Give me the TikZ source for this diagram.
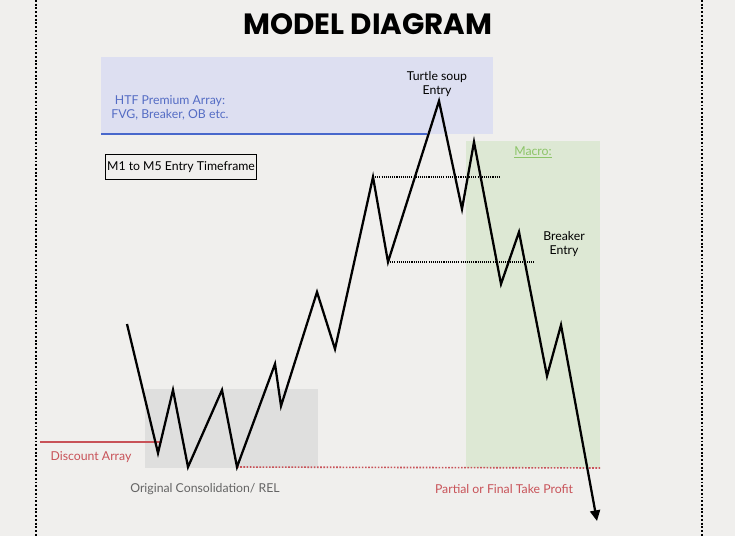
\documentclass[tikz,border=0pt]{standalone}
\usepackage{fontspec}
\setmainfont{Lato}
\newfontfamily\titlefont{Poppins}
\usepackage{tikz}
\usetikzlibrary{arrows.meta}
\usepackage{xcolor}
\definecolor{paperGray}{RGB}{240,239,237}
\definecolor{premiumBlue}{RGB}{221,223,241}
\definecolor{lineBlue}{RGB}{72,104,204}
\definecolor{textBlue}{RGB}{84,108,196}
\definecolor{macroGreen}{RGB}{221,232,212}
\definecolor{macroText}{RGB}{140,196,104}
\definecolor{consolGray}{RGB}{223,223,222}
\definecolor{discountRed}{RGB}{200,82,88}
\definecolor{captionGray}{RGB}{100,100,100}

\begin{document}
\begin{tikzpicture}[x=0.75pt,y=-0.75pt,
    caption/.style={font=\fontsize{9.2}{10.6}\selectfont,align=center,inner sep=0pt},
    price/.style={line width=1.7pt,line join=miter},
    level/.style={line width=0.8pt,dash pattern=on 0.8pt off 0.8pt},
    border/.style={line width=1.4pt,dash pattern=on 1.4pt off 1.4pt}
  ]
  % canvas
  \fill[paperGray] (0,0) rectangle (735,536);
  \useasboundingbox (0,0) rectangle (735,536);
  \draw[border] (36,0) -- (36,536);
  \draw[border] (702,0) -- (702,536);

  % zones
  \fill[premiumBlue] (101,57) rectangle (493,134);
  \fill[macroGreen] (466,141) rectangle (600,468);
  \fill[consolGray] (145,389) rectangle (318,468);

  % price swings
  \coordinate (s0) at (127,324);
  \coordinate (s1) at (158,453);
  \coordinate (s2) at (173,390);
  \coordinate (s3) at (188,467);
  \coordinate (s4) at (222,390);
  \coordinate (s5) at (237,467);
  \coordinate (s6) at (275,364);
  \coordinate (s7) at (281,406);
  \coordinate (s8) at (317,292);
  \coordinate (s9) at (335,349);
  \coordinate (s10) at (373,177);
  \coordinate (s11) at (388,262);
  \coordinate (s12) at (439,101);
  \coordinate (s13) at (462,209);
  \coordinate (s14) at (474,142);
  \coordinate (s15) at (501,284);
  \coordinate (s16) at (519,232);
  \coordinate (s17) at (547,376);
  \coordinate (s18) at (561,325);
  \coordinate (s19) at (597,521);

  % levels
  \coordinate (premEnd) at (427,134);
  \coordinate (highEnd) at (500,177);
  \coordinate (lowEnd) at (535,262);
  \coordinate (discStart) at (40,442);
  \coordinate (discEnd) at (162,442);
  \coordinate (relEnd) at (600,468);
  \draw[lineBlue,line width=1.6pt] (101,134) -- (premEnd);
  \draw[discountRed,line width=1.6pt] (discStart) -- (discEnd);
  \draw[level] (s10) -- (highEnd);
  \draw[level] (s11) -- (lowEnd);
  \draw[discountRed,line width=1.2pt,dash pattern=on 1.2pt off 1.2pt] (s5) -- (relEnd);

  \draw[price,-{Triangle[length=8pt,width=7.5pt]}]
    (s0) -- (s1) -- (s2) -- (s3) -- (s4) -- (s5) -- (s6) -- (s7) -- (s8) -- (s9)
    -- (s10) -- (s11) -- (s12) -- (s13) -- (s14) -- (s15) -- (s16) -- (s17) -- (s18) -- (s19);

  % labels
  \node[font=\titlefont\bfseries\fontsize{22}{24}\selectfont,inner sep=0pt] (title) at (368,24) {MODEL DIAGRAM};
  \node[caption,text=textBlue] (premium) at (170,108) {HTF Premium Array:\\FVG, Breaker, OB etc.};
  \node[caption,draw=black,line width=0.7pt,minimum width=151*0.75pt,minimum height=25*0.75pt] (timeframe) at (181,167) {M1 to M5 Entry Timeframe};
  \node[caption,align=center] (turtle) at (437,84) {Turtle soup\\Entry};
  \node[caption,text=macroText] (macro) at (533,152) {\underline{Macro:}};
  \node[caption] (breaker) at (564,244) {Breaker\\Entry};
  \node[caption,text=discountRed] (discount) at (91,457) {Discount Array};
  \node[caption,text=captionGray] (consol) at (205,489) {Original Consolidation/ REL};
  \node[caption,text=discountRed] (profit) at (504,489) {Partial or Final Take Profit};
\end{tikzpicture}
\end{document}
